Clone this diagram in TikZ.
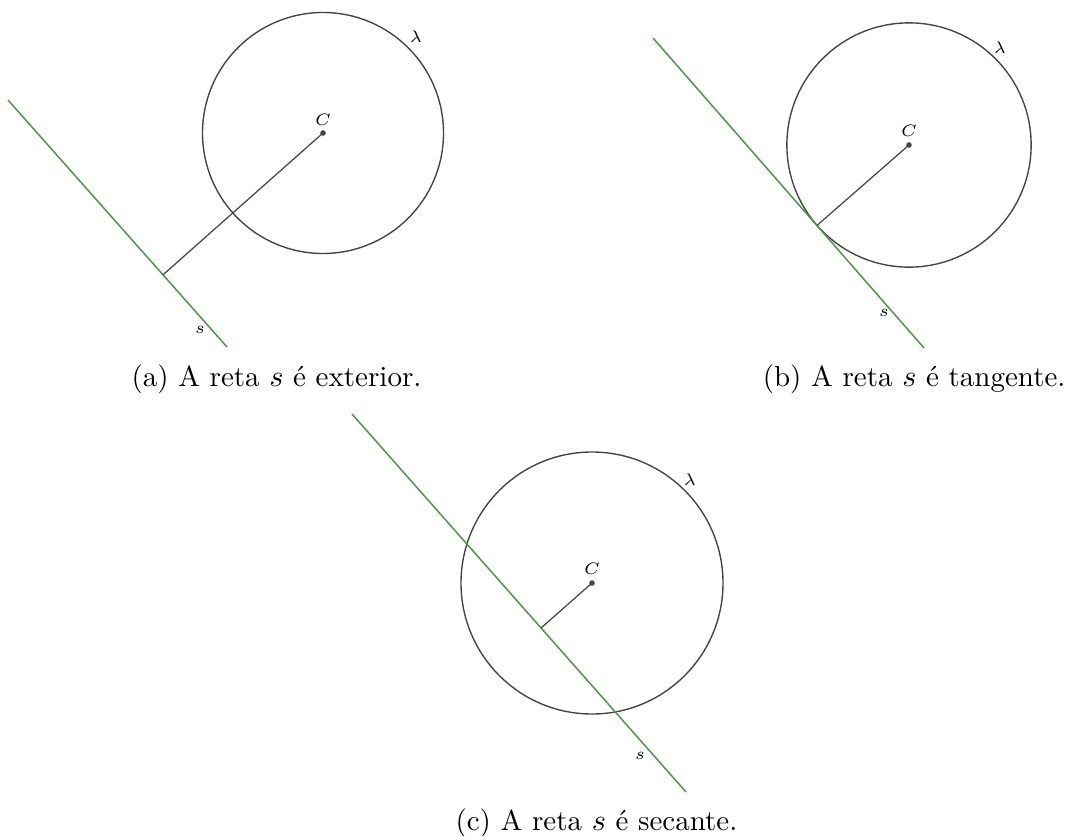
\documentclass[tikz,border=0pt]{standalone}
\usepackage{fontspec}
\usetikzlibrary{calc}
\definecolor{sgreen}{RGB}{80,150,72}
\definecolor{dgray}{RGB}{68,68,68}
\begin{document}
\begin{tikzpicture}[x=0.362pt,y=-0.362pt,
  circ/.style={draw=dgray,line width=0.5pt},
  reta/.style={draw=sgreen,line width=0.55pt},
  raio/.style={draw=dgray,line width=0.45pt},
  ponto/.style={circle,fill=dgray,inner sep=0pt,minimum size=2pt},
  lab/.style={font=\fontsize{6}{7}\selectfont,inner sep=0pt},
  legenda/.style={font=\fontsize{10.5}{12.5}\selectfont,inner sep=0pt}]
\useasboundingbox (0,0) rectangle (1068,835);

% ---------- (a) exterior ----------
\coordinate (A1) at (8,100);
\coordinate (A2) at (227,347);
\coordinate (Ca) at (323,133);
\coordinate (Fa) at ($(A1)!(Ca)!(A2)$);
\draw[circ] (Ca) circle[radius=120.5*0.362pt];
\draw[reta] (A1) -- (A2);
\draw[raio] (Ca) -- (Fa);
\node[ponto] (Pa) at (Ca) {};
\node[lab] (La) at (323,120) {$C$};
\node[lab] (lama) at (416,37) {$\lambda$};
\node[lab] (sa) at (200,330) {$s$};
\node[legenda,anchor=base west] (capa) at (131,386) {(a) A reta $s$ é exterior.};

% ---------- (b) tangente ----------
\coordinate (B1) at (653,38);
\coordinate (B2) at (924,348);
\coordinate (Cb) at (909,145);
\coordinate (Fb) at ($(B1)!(Cb)!(B2)$);
\draw[circ] let \p1=($(Cb)-(Fb)$) in (Cb) circle[radius={veclen(\x1,\y1)}];
\draw[reta] (B1) -- (B2);
\draw[raio] (Cb) -- (Fb);
\node[ponto] (Pb) at (Cb) {};
\node[lab] (Lb) at (909,131) {$C$};
\node[lab] (lamb) at (1000,48) {$\lambda$};
\node[lab] (sb) at (884,313) {$s$};
\node[legenda,anchor=base east] (capb) at (1066,386) {(b) A reta $s$ é tangente.};

% ---------- (c) secante ----------
\coordinate (S1) at (352,414);
\coordinate (S2) at (686,792);
\coordinate (Cc) at (592,583);
\coordinate (Fc) at ($(S1)!(Cc)!(S2)$);
\draw[circ] (Cc) circle[radius=131*0.362pt];
\draw[reta] (S1) -- (S2);
\draw[raio] (Cc) -- (Fc);
\node[ponto] (Pc) at (Cc) {};
\node[lab] (Lc) at (592,569) {$C$};
\node[lab] (lamc) at (690,480) {$\lambda$};
\node[lab] (sc) at (640,756) {$s$};
\node[legenda,anchor=base west] (capc) at (455,830) {(c) A reta $s$ é secante.};
\end{tikzpicture}
\end{document}
